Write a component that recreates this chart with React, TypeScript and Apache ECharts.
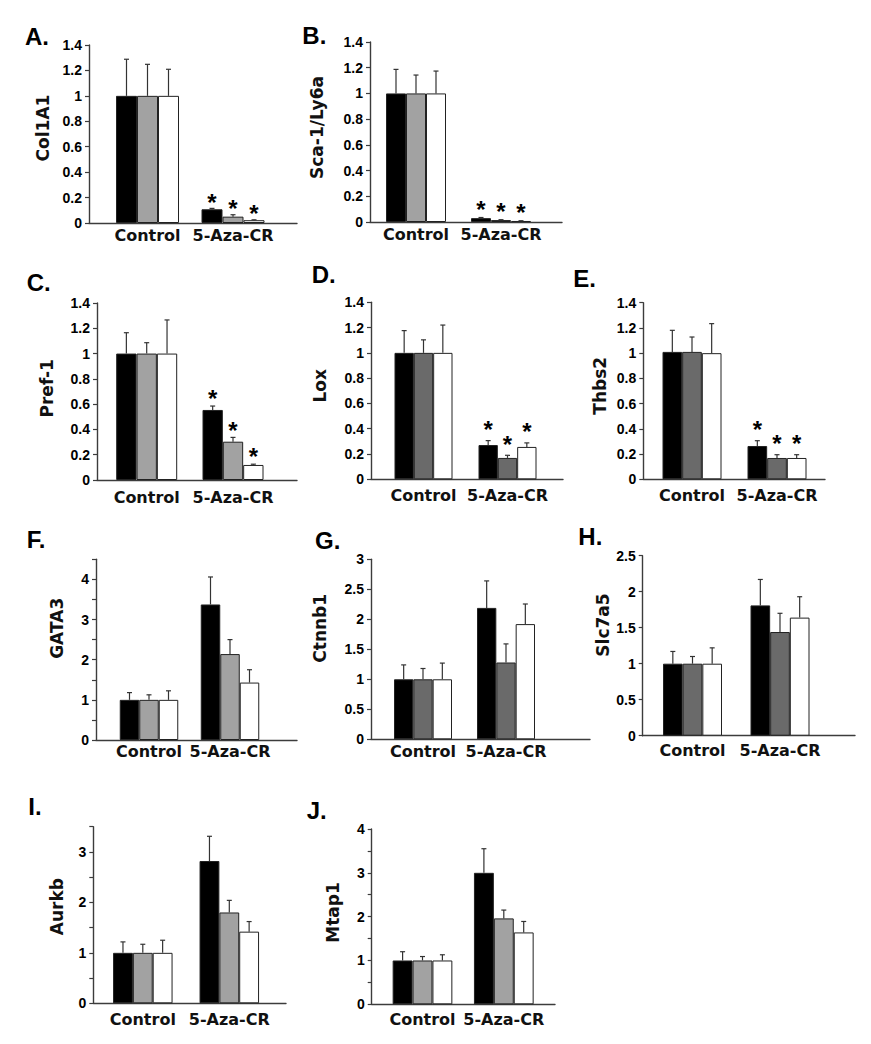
import React, { useEffect, useRef } from "react";
import * as echarts from "echarts";

// ---------- DATA ----------
const categories = ["Control", "5-Aza-CR"];
const seriesNames = ["Group 1", "Group 2", "Group 3"];

// means / error (upper SD) per bar series: [Control, 5-Aza-CR]
const col1a1Means = [[1.0, 0.108], [1.0, 0.05], [1.0, 0.022]];
const col1a1Errors = [[0.288, 0.007], [0.248, 0.015], [0.209, 0.003]];
const col1a1Sig = [false, true];

const sca1Means = [[1.0, 0.03], [1.0, 0.015], [1.0, 0.008]];
const sca1Errors = [[0.187, 0.005], [0.143, 0.003], [0.174, 0.002]];
const sca1Sig = [false, true];

const pref1Means = [[1.0, 0.554], [1.0, 0.303], [1.0, 0.119]];
const pref1Errors = [[0.165, 0.031], [0.086, 0.034], [0.266, 0.006]];
const pref1Sig = [false, true];

const loxMeans = [[1.0, 0.271], [1.0, 0.169], [1.0, 0.256]];
const loxErrors = [[0.176, 0.035], [0.103, 0.021], [0.22, 0.032]];
const loxSig = [false, true];

const thbs2Means = [[1.01, 0.264], [1.01, 0.169], [1.0, 0.169]];
const thbs2Errors = [[0.171, 0.042], [0.118, 0.026], [0.234, 0.026]];
const thbs2Sig = [false, true];

const gata3Means = [[1.0, 3.375], [1.0, 2.14], [1.0, 1.43]];
const gata3Errors = [[0.18, 0.685], [0.125, 0.36], [0.225, 0.32]];
const gata3Sig = [false, false];

const ctnnb1Means = [[1.0, 2.19], [1.0, 1.28], [1.0, 1.92]];
const ctnnb1Errors = [[0.24, 0.45], [0.18, 0.31], [0.27, 0.335]];
const ctnnb1Sig = [false, false];

const slc7a5Means = [[1.0, 1.81], [1.0, 1.44], [1.0, 1.64]];
const slc7a5Errors = [[0.17, 0.36], [0.1, 0.26], [0.22, 0.29]];
const slc7a5Sig = [false, false];

const aurkbMeans = [[1.0, 2.82], [1.0, 1.8], [1.0, 1.42]];
const aurkbErrors = [[0.217, 0.49], [0.17, 0.24], [0.25, 0.2]];
const aurkbSig = [false, false];

const mtap1Means = [[1.0, 3.0], [1.0, 1.96], [1.0, 1.64]];
const mtap1Errors = [[0.2, 0.55], [0.09, 0.19], [0.13, 0.25]];
const mtap1Sig = [false, false];

// axis ranges
const smallRange = { max: 1.4, interval: 0.2, intOnly: false };

const panels = [
  { letter: "A.", gene: "Col1A1", means: col1a1Means, errors: col1a1Errors, sig: col1a1Sig, range: smallRange, darkGray: false },
  { letter: "B.", gene: "Sca-1/Ly6a", means: sca1Means, errors: sca1Errors, sig: sca1Sig, range: smallRange, darkGray: false },
  { letter: "C.", gene: "Pref-1", means: pref1Means, errors: pref1Errors, sig: pref1Sig, range: smallRange, darkGray: false },
  { letter: "D.", gene: "Lox", means: loxMeans, errors: loxErrors, sig: loxSig, range: smallRange, darkGray: true },
  { letter: "E.", gene: "Thbs2", means: thbs2Means, errors: thbs2Errors, sig: thbs2Sig, range: smallRange, darkGray: true },
  { letter: "F.", gene: "GATA3", means: gata3Means, errors: gata3Errors, sig: gata3Sig, range: { max: 4.5, interval: 0.5, intOnly: true }, darkGray: false },
  { letter: "G.", gene: "Ctnnb1", means: ctnnb1Means, errors: ctnnb1Errors, sig: ctnnb1Sig, range: { max: 3, interval: 0.5, intOnly: false }, darkGray: true },
  { letter: "H.", gene: "Slc7a5", means: slc7a5Means, errors: slc7a5Errors, sig: slc7a5Sig, range: { max: 2.5, interval: 0.5, intOnly: false }, darkGray: true },
  { letter: "I.", gene: "Aurkb", means: aurkbMeans, errors: aurkbErrors, sig: aurkbSig, range: { max: 3.5, interval: 0.5, intOnly: true }, darkGray: false },
  { letter: "J.", gene: "Mtap1", means: mtap1Means, errors: mtap1Errors, sig: mtap1Sig, range: { max: 4, interval: 0.5, intOnly: true }, darkGray: false },
];

// ---------- LAYOUT (pixels) ----------
const layouts = [
  { letter: [25, 36.7], yAxisX: 89, xEnd: 297, top: 45, zero: 223, centers: [147.5, 233], groupW: 63, yName: [43, 128], labelMargin: 4, starOff: 11 },
  { letter: [302.3, 35.8], yAxisX: 370, xEnd: 562, top: 42, zero: 222, centers: [416, 501], groupW: 60, yName: [317, 127.5], labelMargin: 4, starOff: 13 },
  { letter: [26.7, 282.5], yAxisX: 97, xEnd: 297, top: 303, zero: 480, centers: [146.7, 233], groupW: 61, yName: [46.7, 388.3], labelMargin: 9, starOff: 12 },
  { letter: [311.7, 274.2], yAxisX: 371, xEnd: 563, top: 302.3, zero: 479.3, centers: [423.5, 507.5], groupW: 58, yName: [320, 385.8], labelMargin: 8, starOff: 16 },
  { letter: [573.3, 278.7], yAxisX: 643.3, xEnd: 825, top: 302.7, zero: 479.3, centers: [692, 777], groupW: 59, yName: [600, 385.8], labelMargin: 8, starOff: 16 },
  { letter: [26.7, 539.7], yAxisX: 96, xEnd: 297, top: 559.3, zero: 740, centers: [149, 230], groupW: 58.5, yName: [56.7, 628.3], labelMargin: 3, starOff: 12 },
  { letter: [315, 540], yAxisX: 371, xEnd: 590, top: 559.3, zero: 739.3, centers: [423, 506], groupW: 58, yName: [320, 628.3], labelMargin: 4, starOff: 12 },
  { letter: [578.3, 536.7], yAxisX: 642.7, xEnd: 855, top: 555.7, zero: 735.7, centers: [692.5, 780], groupW: 59, yName: [603, 625], labelMargin: 7, starOff: 12 },
  { letter: [28.3, 806.7], yAxisX: 93.3, xEnd: 286, top: 826.7, zero: 1003.3, centers: [142.8, 229.3], groupW: 59.5, yName: [56.7, 906.7], labelMargin: 8, starOff: 12 },
  { letter: [306.7, 810], yAxisX: 371.7, xEnd: 555, top: 829, zero: 1004.3, centers: [422.5, 503.8], groupW: 59.7, yName: [333.3, 912.5], labelMargin: 7, starOff: 12 },
];

const LIGHT_GRAY = "#a2a2a2";
const DARK_GRAY = "#6a6a6a";
const AXIS_COLOR = "#3c3c3c";
const TEXT_COLOR = "#111111";

function buildOption() {
  const grid: any[] = [];
  const xAxis: any[] = [];
  const yAxis: any[] = [];
  const series: any[] = [];
  const graphic: any[] = [];

  panels.forEach((p, k) => {
    const L = layouts[k];
    const catW = L.centers[1] - L.centers[0];
    const gapRatio = (catW - L.groupW) / catW;
    const axesIdx = 2 * k;
    const barsIdx = 2 * k + 1;

    grid.push({
      left: L.yAxisX,
      top: L.top,
      width: L.xEnd - L.yAxisX,
      height: L.zero - L.top,
      outerBoundsMode: "none",
    });
    grid.push({
      left: L.centers[0] - catW / 2,
      top: L.top,
      width: catW * 2,
      height: L.zero - L.top,
      outerBoundsMode: "none",
    });

    xAxis.push({
      gridIndex: axesIdx,
      type: "value",
      min: 0,
      max: 1,
      axisLine: { show: true, onZero: false, lineStyle: { color: AXIS_COLOR, width: 1.4 } },
      axisTick: { show: false },
      axisLabel: { show: false },
      splitLine: { show: false },
    });
    xAxis.push({
      gridIndex: barsIdx,
      type: "category",
      data: categories,
      axisLine: { show: false },
      axisTick: { show: false },
      splitLine: { show: false },
      axisLabel: {
        interval: 0,
        margin: L.labelMargin,
        color: TEXT_COLOR,
        fontFamily: "DejaVu Sans",
        fontWeight: "bold",
        fontSize: 16,
      },
    });

    const intOnly = p.range.intOnly;
    yAxis.push({
      gridIndex: axesIdx,
      type: "value",
      min: 0,
      max: p.range.max,
      interval: p.range.interval,
      axisLine: { show: true, onZero: false, lineStyle: { color: AXIS_COLOR, width: 1.4 } },
      axisTick: { show: true, length: 4, lineStyle: { color: AXIS_COLOR, width: 1.2 } },
      splitLine: { show: false },
      axisLabel: {
        margin: 7,
        color: "#000",
        fontFamily: "Liberation Sans",
        fontWeight: "bold",
        fontSize: 14,
        formatter: (v: number) => {
          if (intOnly && Math.abs(v - Math.round(v)) > 1e-6) return "";
          return String(Math.round(v * 10) / 10);
        },
      },
    });
    yAxis.push({
      gridIndex: barsIdx,
      type: "value",
      min: 0,
      max: p.range.max,
      show: false,
      splitLine: { show: false },
    });

    const colors = ["#000000", p.darkGray ? DARK_GRAY : LIGHT_GRAY, "#ffffff"];
    p.means.forEach((vals, s) => {
      series.push({
        type: "bar",
        name: seriesNames[s],
        xAxisIndex: barsIdx,
        yAxisIndex: barsIdx,
        data: vals,
        barGap: "0%",
        barCategoryGap: `${gapRatio * 100}%`,
        itemStyle: { color: colors[s], borderColor: "#222", borderWidth: 1 },
        z: 2,
      });
    });

    const errData: any[] = [];
    p.means.forEach((vals, s) => {
      vals.forEach((m, c) => {
        errData.push([c, s, m, p.errors[s][c], p.sig[c] ? 1 : 0]);
      });
    });
    const starOff = L.starOff;
    series.push({
      type: "custom",
      name: p.gene + " error",
      xAxisIndex: barsIdx,
      yAxisIndex: barsIdx,
      clip: false,
      z: 5,
      encode: { x: 0, y: 2 },
      data: errData,
      renderItem: (params: any, api: any) => {
        const c = api.value(0);
        const s = api.value(1);
        const m = api.value(2);
        const e = api.value(3);
        const sig = api.value(4);
        const base = api.coord([c, m]);
        const tp = api.coord([c, m + e]);
        const band = api.size([1, 0])[0];
        const bw = (band * (1 - gapRatio)) / 3;
        const x = base[0] + (s - 1) * bw;
        const st = { stroke: "#333", lineWidth: 1.2 };
        const children: any[] = [
          { type: "line", shape: { x1: x, y1: base[1], x2: x, y2: tp[1] }, style: st },
          { type: "line", shape: { x1: x - 2.5, y1: tp[1], x2: x + 2.5, y2: tp[1] }, style: st },
        ];
        if (sig) {
          children.push({
            type: "text",
            x: x,
            y: tp[1] - starOff + 4.8,
            style: {
              text: "*",
              fill: "#000",
              fontFamily: "Liberation Sans",
              fontWeight: "bold",
              fontSize: 24,
              align: "center",
              verticalAlign: "middle",
            },
          });
        }
        return { type: "group", children };
      },
    });

    graphic.push({
      type: "text",
      x: L.letter[0],
      y: L.letter[1],
      style: {
        text: p.letter,
        fill: "#000",
        fontFamily: "Liberation Sans",
        fontWeight: "bold",
        fontSize: 24,
        align: "left",
        verticalAlign: "middle",
      },
    });
    graphic.push({
      type: "text",
      x: L.yName[0],
      y: L.yName[1],
      rotation: Math.PI / 2,
      style: {
        text: p.gene,
        fill: TEXT_COLOR,
        fontFamily: "DejaVu Sans",
        fontWeight: "bold",
        fontSize: 17,
        align: "center",
        verticalAlign: "middle",
      },
    });
  });

  return {
    animation: false,
    backgroundColor: "#ffffff",
    grid,
    xAxis,
    yAxis,
    series,
    graphic,
  };
}

export default function App() {
  const ref = useRef<HTMLDivElement>(null);
  useEffect(() => {
    if (!ref.current) return;
    const chart = echarts.init(ref.current, undefined, { renderer: "svg" });
    chart.setOption(buildOption() as any);
    return () => chart.dispose();
  }, []);
  return (
    <div
      ref={ref}
      style={{ position: "absolute", left: 0, top: 0, width: 871, height: 1044, background: "#fff" }}
    />
  );
}
